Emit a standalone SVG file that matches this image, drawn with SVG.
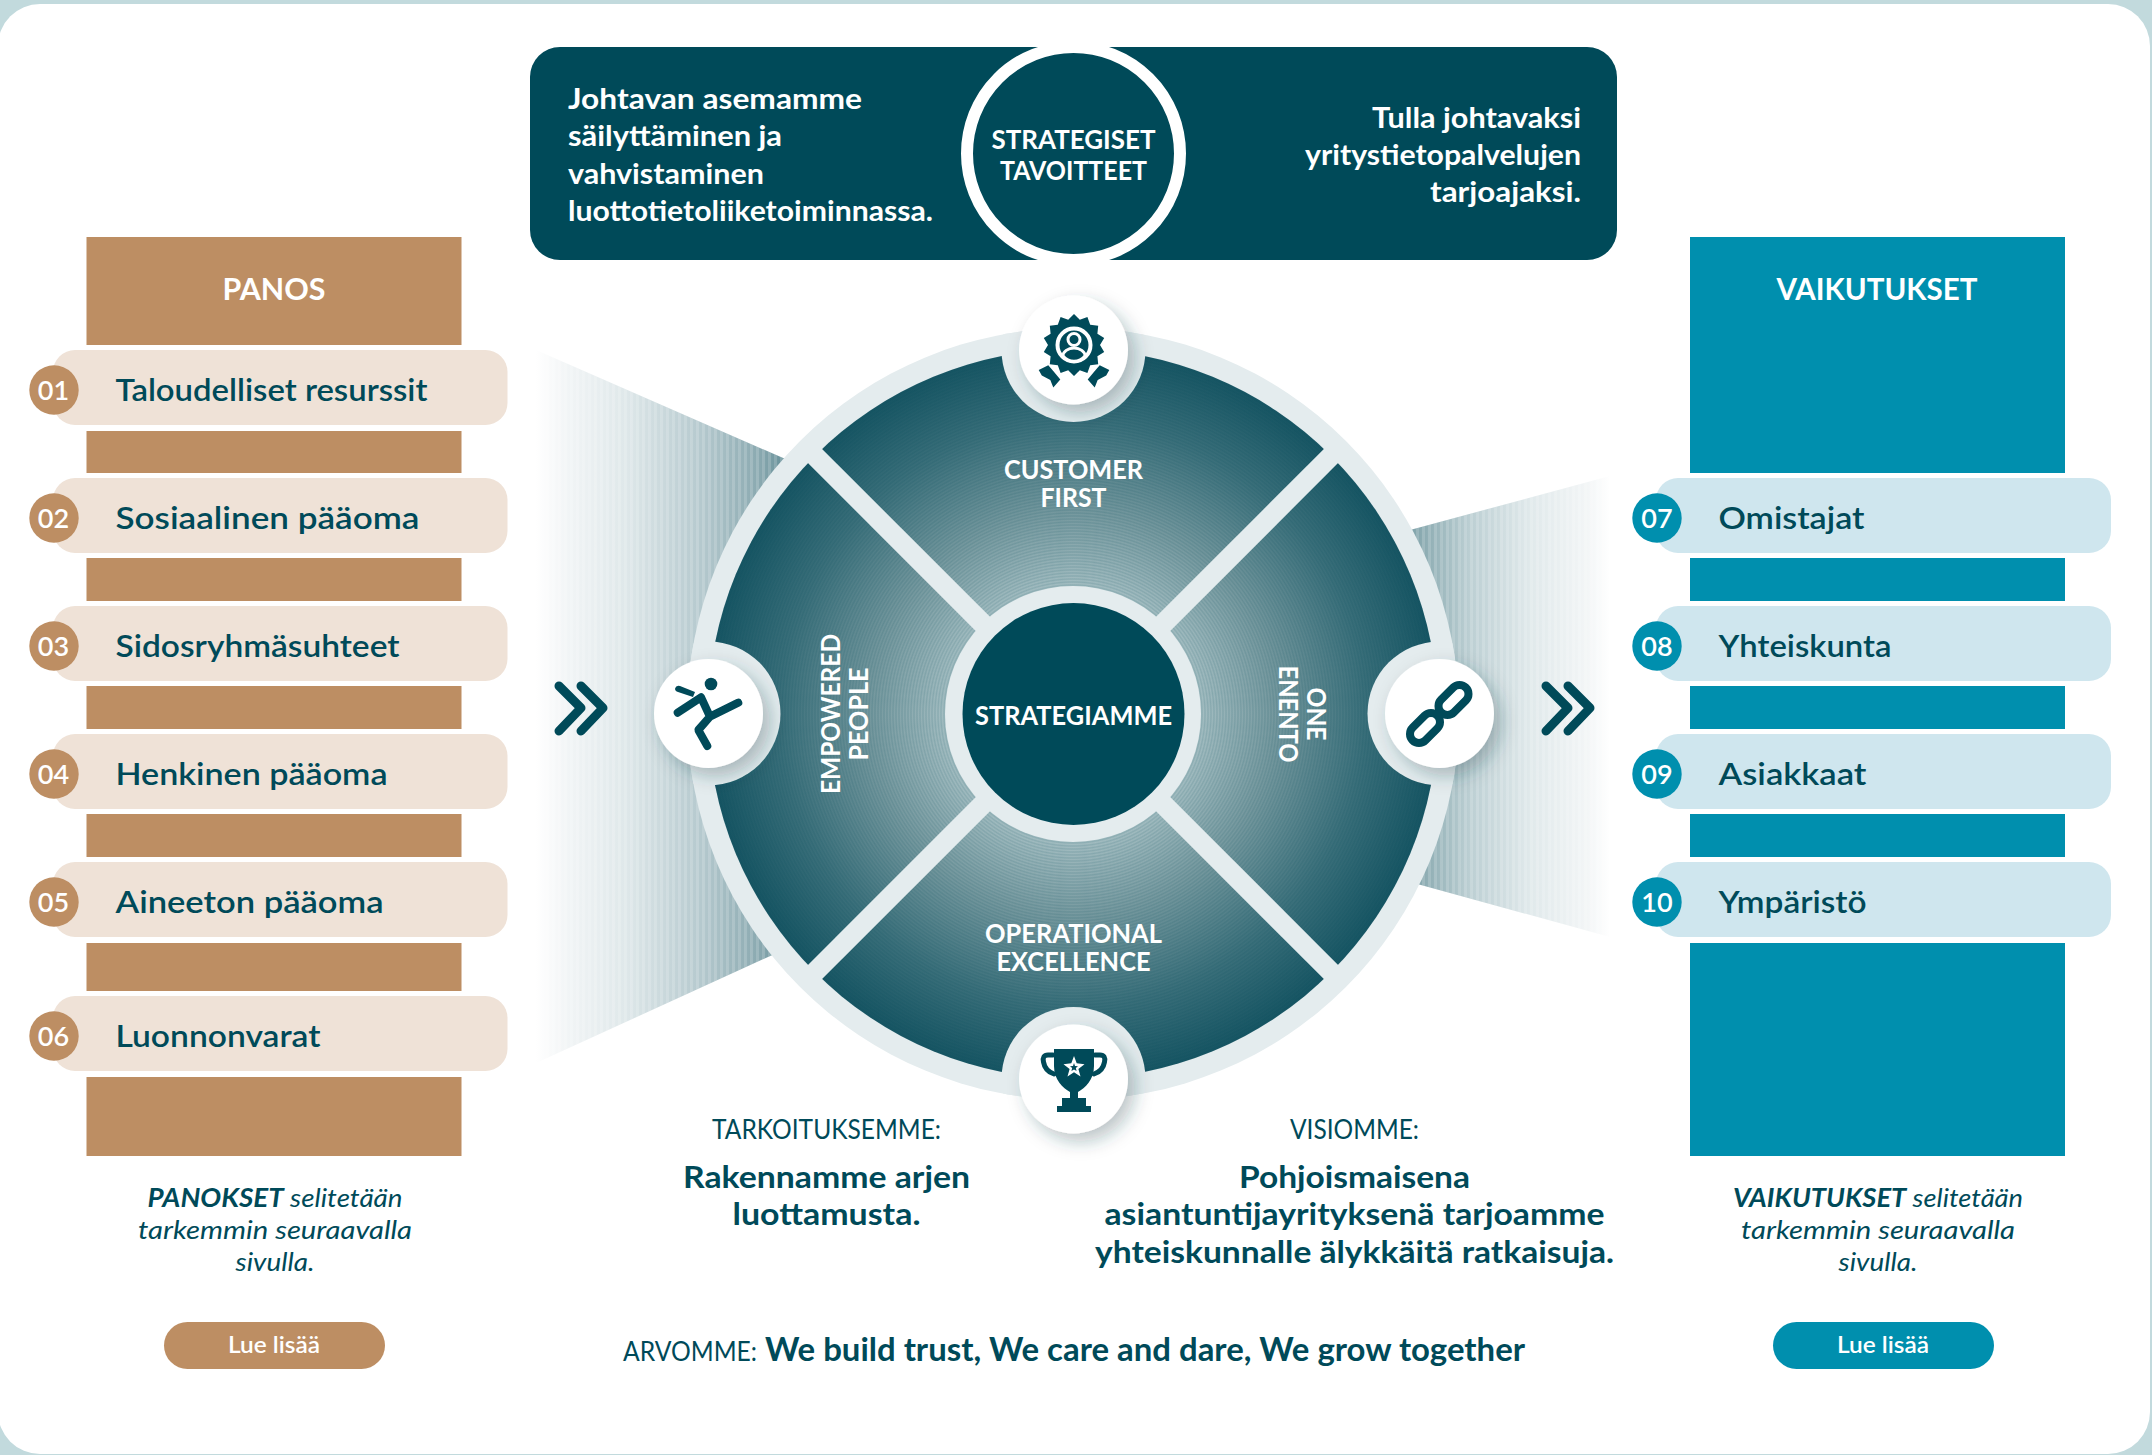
<svg xmlns="http://www.w3.org/2000/svg" width="2152" height="1455" viewBox="0 0 2152 1455">
<style>
text{font-family:"Lato","Noto Sans","Liberation Sans",sans-serif;fill:#004a59}
.w{fill:#fff}
.b{font-weight:700}
.pt{font-size:31px;font-weight:600}
.num{font-size:27px;fill:#fff;text-anchor:middle;font-weight:600}
.hd{font-size:31px;fill:#fff;text-anchor:middle;font-weight:700}
.ban{font-size:29px;fill:#fff;font-weight:700}
.wl{font-size:26px;fill:#fff;text-anchor:middle;font-weight:700}
.note{font-size:26px;font-style:italic;text-anchor:middle}
.cap{font-size:26px;text-anchor:middle}
.big{font-size:31px;font-weight:700;text-anchor:middle}
.btn{font-size:23px;fill:#fff;font-weight:600}
.tan{fill:#bd8e63}.tanp{fill:#efe2d7}.blu{fill:#008fae}.blup{fill:#cfe6ee}
.ic{fill:#004a59}
.ils{fill:none;stroke:#004a59;stroke-linecap:round;stroke-linejoin:round}
.chev{fill:none;stroke:#004a59;stroke-width:9;stroke-linecap:round;stroke-linejoin:round}
.ring{fill:#e4ecee}
.sep{stroke:#e4ecee;stroke-width:20}
</style>
<defs>
<linearGradient id="fl" gradientUnits="userSpaceOnUse" x1="536" y1="0" x2="790" y2="0"><stop offset="0" stop-color="#fff"/><stop offset=".12" stop-color="#f2f5f6"/><stop offset=".35" stop-color="#dfe8ea"/><stop offset=".65" stop-color="#b5c9ce"/><stop offset=".88" stop-color="#8aa9b0"/><stop offset="1" stop-color="#5f8b94"/></linearGradient>
<linearGradient id="fr" gradientUnits="userSpaceOnUse" x1="1610" y1="0" x2="1410" y2="0"><stop offset="0" stop-color="#fff"/><stop offset=".12" stop-color="#f2f5f6"/><stop offset=".4" stop-color="#e0e9eb"/><stop offset=".7" stop-color="#bccfd3"/><stop offset="1" stop-color="#7fa2a9"/></linearGradient>
<pattern id="st" patternUnits="userSpaceOnUse" width="6" height="10"><rect width="3" height="10" fill="#fff" fill-opacity=".16"/></pattern>
<radialGradient id="wg" gradientUnits="userSpaceOnUse" cx="1073" cy="714" r="365"><stop offset=".33" stop-color="#a8c1c5"/><stop offset=".55" stop-color="#76999f"/><stop offset=".8" stop-color="#3a6f7a"/><stop offset="1" stop-color="#175563"/></radialGradient>
<radialGradient id="mo" gradientUnits="userSpaceOnUse" cx="1073" cy="714" r="3" spreadMethod="repeat"><stop offset="0" stop-color="#004a59" stop-opacity=".14"/><stop offset=".5" stop-color="#004a59" stop-opacity="0"/><stop offset="1" stop-color="#004a59" stop-opacity=".14"/></radialGradient>
<clipPath id="rc"><circle cx="1073" cy="714" r="386"/></clipPath>
<filter id="sh" x="-40%" y="-40%" width="180%" height="180%"><feDropShadow dx="7" dy="8" stdDeviation="9" flood-color="#1c3c44" flood-opacity=".3"/></filter>
</defs>
<rect width="2152" height="1455" fill="#c2dadd"/>
<rect x="-2" y="4" width="2152" height="1450" rx="42" fill="#fff"/>

<g id="connectors">
<polygon points="536,350 790,461 790,947 536,1063" fill="url(#fl)"/>
<polygon points="536,350 790,461 790,947 536,1063" fill="url(#st)"/>
<polygon points="1610,476 1410,530 1410,882 1610,937" fill="url(#fr)"/>
<polygon points="1610,476 1410,530 1410,882 1610,937" fill="url(#st)"/>
<polyline class="chev" points="559,686 581,708 559,731"/>
<polyline class="chev" points="581,686 603,708 581,731"/>
<polyline class="chev" points="1546,686 1568,708 1546,731"/>
<polyline class="chev" points="1568,686 1590,708 1568,731"/>
</g>

<g id="panos">
<rect class="tan" x="86.500" y="237" width="375" height="108"/>
<rect class="tan" x="86.500" y="431" width="375" height="42"/>
<rect class="tan" x="86.500" y="558" width="375" height="43"/>
<rect class="tan" x="86.500" y="686" width="375" height="43"/>
<rect class="tan" x="86.500" y="814" width="375" height="43"/>
<rect class="tan" x="86.500" y="943" width="375" height="48"/>
<rect class="tan" x="86.500" y="1077" width="375" height="79"/>
<text class="hd" x="274" y="300" textLength="103" lengthAdjust="spacingAndGlyphs">PANOS</text>
</g>
<g id="vaikutukset">
<rect class="blu" x="1690" y="237" width="375" height="236"/>
<rect class="blu" x="1690" y="558" width="375" height="43"/>
<rect class="blu" x="1690" y="686" width="375" height="43"/>
<rect class="blu" x="1690" y="814" width="375" height="43"/>
<rect class="blu" x="1690" y="943" width="375" height="213"/>
<text class="hd" x="1877" y="300" textLength="201" lengthAdjust="spacingAndGlyphs">VAIKUTUKSET</text>
</g>

<g id="item01"><rect class="tanp" x="53" y="350" width="454.500" height="75" rx="22"/><circle class="tan" cx="54" cy="390" r="24.700"/><text class="num" x="53.500" y="400">01</text><text class="pt" x="115.500" y="401" textLength="312" lengthAdjust="spacingAndGlyphs">Taloudelliset resurssit</text></g>
<g id="item02"><rect class="tanp" x="53" y="478" width="454.500" height="75" rx="22"/><circle class="tan" cx="54" cy="518" r="24.700"/><text class="num" x="53.500" y="528">02</text><text class="pt" x="115.500" y="529" textLength="304" lengthAdjust="spacingAndGlyphs">Sosiaalinen pääoma</text></g>
<g id="item03"><rect class="tanp" x="53" y="606" width="454.500" height="75" rx="22"/><circle class="tan" cx="54" cy="646" r="24.700"/><text class="num" x="53.500" y="656">03</text><text class="pt" x="115.500" y="657" textLength="284" lengthAdjust="spacingAndGlyphs">Sidosryhmäsuhteet</text></g>
<g id="item04"><rect class="tanp" x="53" y="734" width="454.500" height="75" rx="22"/><circle class="tan" cx="54" cy="774" r="24.700"/><text class="num" x="53.500" y="784">04</text><text class="pt" x="115.500" y="785" textLength="272" lengthAdjust="spacingAndGlyphs">Henkinen pääoma</text></g>
<g id="item05"><rect class="tanp" x="53" y="862" width="454.500" height="75" rx="22"/><circle class="tan" cx="54" cy="902" r="24.700"/><text class="num" x="53.500" y="912">05</text><text class="pt" x="115.500" y="913" textLength="268" lengthAdjust="spacingAndGlyphs">Aineeton pääoma</text></g>
<g id="item06"><rect class="tanp" x="53" y="996" width="454.500" height="75" rx="22"/><circle class="tan" cx="54" cy="1036" r="24.700"/><text class="num" x="53.500" y="1046">06</text><text class="pt" x="115.500" y="1047" textLength="205" lengthAdjust="spacingAndGlyphs">Luonnonvarat</text></g>

<g id="item07"><rect class="blup" x="1656" y="478" width="455" height="75" rx="22"/><circle class="blu" cx="1657" cy="518" r="24.700"/><text class="num" x="1657" y="528">07</text><text class="pt" x="1718.500" y="529" textLength="146" lengthAdjust="spacingAndGlyphs">Omistajat</text></g>
<g id="item08"><rect class="blup" x="1656" y="606" width="455" height="75" rx="22"/><circle class="blu" cx="1657" cy="646" r="24.700"/><text class="num" x="1657" y="656">08</text><text class="pt" x="1718.500" y="657" textLength="173" lengthAdjust="spacingAndGlyphs">Yhteiskunta</text></g>
<g id="item09"><rect class="blup" x="1656" y="734" width="455" height="75" rx="22"/><circle class="blu" cx="1657" cy="774" r="24.700"/><text class="num" x="1657" y="784">09</text><text class="pt" x="1718.500" y="785" textLength="148" lengthAdjust="spacingAndGlyphs">Asiakkaat</text></g>
<g id="item10"><rect class="blup" x="1656" y="862" width="455" height="75" rx="22"/><circle class="blu" cx="1657" cy="902" r="24.700"/><text class="num" x="1657" y="912">10</text><text class="pt" x="1718.500" y="913" textLength="148" lengthAdjust="spacingAndGlyphs">Ympäristö</text></g>

<g id="tavoitteet">
<rect x="530" y="47" width="1087" height="213" rx="30" fill="#004a59"/>
<circle cx="1073.500" cy="153.500" r="106.500" fill="#004a59" stroke="#fff" stroke-width="12"/>
<text class="ban" x="568" y="109" textLength="294" lengthAdjust="spacingAndGlyphs">Johtavan asemamme</text>
<text class="ban" x="568" y="146" textLength="214" lengthAdjust="spacingAndGlyphs">säilyttäminen ja</text>
<text class="ban" x="568" y="184" textLength="196" lengthAdjust="spacingAndGlyphs">vahvistaminen</text>
<text class="ban" x="568" y="221" textLength="365" lengthAdjust="spacingAndGlyphs">luottotietoliiketoiminnassa.</text>
<text class="ban" x="1581" y="128" text-anchor="end" textLength="209" lengthAdjust="spacingAndGlyphs">Tulla johtavaksi</text>
<text class="ban" x="1581" y="165" text-anchor="end" textLength="276" lengthAdjust="spacingAndGlyphs">yritystietopalvelujen</text>
<text class="ban" x="1581" y="202" text-anchor="end" textLength="151" lengthAdjust="spacingAndGlyphs">tarjoajaksi.</text>
<text class="wl" x="1073.500" y="149" textLength="164" lengthAdjust="spacingAndGlyphs">STRATEGISET</text>
<text class="wl" x="1073.500" y="180" textLength="147" lengthAdjust="spacingAndGlyphs">TAVOITTEET</text>
</g>

<g id="wheel">
<circle class="ring" cx="1073" cy="714" r="386"/>
<circle cx="1073" cy="714" r="365" fill="url(#wg)"/>
<circle cx="1073" cy="714" r="365" fill="url(#mo)"/>
<line class="sep" x1="802" y1="443" x2="1344" y2="985"/>
<line class="sep" x1="1344" y1="443" x2="802" y2="985"/>
<circle class="ring" cx="1073" cy="714" r="128"/>
<g clip-path="url(#rc)" class="ring"><circle cx="1073.500" cy="350" r="72"/><circle cx="708.500" cy="713.500" r="72"/><circle cx="1439.500" cy="713.500" r="72"/><circle cx="1073.500" cy="1079" r="72"/></g>
</g>
<g id="strategiamme"><circle cx="1073.500" cy="714" r="111" fill="#004a59"/><text class="wl" x="1073.500" y="725" textLength="197" lengthAdjust="spacingAndGlyphs">STRATEGIAMME</text></g>

<g id="customer-first">
<circle class="w" cx="1073.500" cy="350" r="54.500" filter="url(#sh)"/>
<polygon class="ic" points="1074,314 1079.800,319.700 1087.400,317.100 1090.200,324.700 1098.200,325.700 1097.400,333.700 1104.200,338.100 1100,345 1104.200,351.900 1097.400,356.300 1098.200,364.300 1090.200,365.300 1087.400,372.900 1079.800,370.300 1074,376 1068.200,370.300 1060.600,372.900 1057.800,365.300 1049.800,364.300 1050.600,356.300 1043.800,351.900 1048,345 1043.800,338.100 1050.600,333.700 1049.800,325.700 1057.800,324.700 1060.600,317.100 1068.200,319.700"/>
<circle cx="1074" cy="345" r="16.500" fill="none" stroke="#fff" stroke-width="4"/>
<circle cx="1074" cy="339.500" r="6" class="ic" stroke="#fff" stroke-width="3"/>
<path d="M1063 356a11 8 0 0 1 22 0a14 14 0 0 1-22 0z" class="ic" stroke="#fff" stroke-width="3"/>
<path class="ic" d="M1038.700 370l9.600-4.700 6 7 6 7.300-7 8-3-7.700-8.500-4.300zM1109.300 370l-9.600-4.700-6 7-6 7.300 7 8 3-7.700 8.500-4.300z"/>
<text class="wl" x="1073.500" y="479" textLength="139" lengthAdjust="spacingAndGlyphs">CUSTOMER</text>
<text class="wl" x="1073.500" y="507" textLength="66" lengthAdjust="spacingAndGlyphs">FIRST</text>
</g>
<g id="operational-excellence">
<circle class="w" cx="1073.500" cy="1079" r="54.500" filter="url(#sh)"/>
<path class="ic" d="M1054 1049H1094V1066C1094 1080 1085 1088 1078 1092V1098H1086V1106H1091V1112H1057V1106H1062V1098H1070V1092C1063 1088 1054 1080 1054 1066Z"/>
<path class="ils" stroke-width="5" d="M1053 1055H1048Q1042 1055 1043.500 1062Q1045 1071 1054 1074M1095 1055H1100Q1106 1055 1104.500 1062Q1103 1071 1094 1074"/>
<polygon fill="#fff" points="1074,1056 1076.700,1063.300 1084.500,1064.300 1078.400,1069.100 1080.500,1076.600 1074,1072.300 1067.500,1076.600 1069.600,1069.100 1063.500,1064.300 1071.300,1063.300"/>
<polygon class="ic" points="1074,1063 1075,1066 1078,1066.200 1075.800,1068.100 1076.600,1071 1074,1069.400 1071.400,1071 1072.200,1068.100 1070,1066.200 1073,1066"/>
<text class="wl" x="1073.500" y="943" textLength="177" lengthAdjust="spacingAndGlyphs">OPERATIONAL</text>
<text class="wl" x="1073.500" y="971" textLength="154" lengthAdjust="spacingAndGlyphs">EXCELLENCE</text>
</g>
<g id="empowered-people">
<circle class="w" cx="708.500" cy="713.500" r="54.500" filter="url(#sh)"/>
<circle class="ic" cx="711" cy="684" r="6.300"/>
<path class="ils" stroke-width="8" d="M677.700 712.700L701 697.300L710 716.700L738.300 702.700M710 716.700L698.300 730L707.300 746"/>
<path class="ic" d="M675 688.500Q676 685 680 686L695 692L693 697L678 692Q675 691 675 688.500z"/>
<text class="wl" transform="translate(840,714) rotate(-90)" textLength="160" lengthAdjust="spacingAndGlyphs">EMPOWERED</text>
<text class="wl" transform="translate(868,714) rotate(-90)" textLength="93" lengthAdjust="spacingAndGlyphs">PEOPLE</text>
</g>
<g id="one-enento">
<circle class="w" cx="1439.500" cy="713.500" r="54.500" filter="url(#sh)"/>
<g fill="none" stroke="#004a59" stroke-width="8">
<rect x="1436" y="691" width="35" height="18" rx="9" transform="rotate(-45 1453.500 700)"/>
<rect x="1407.500" y="719" width="35" height="18" rx="9" transform="rotate(-45 1425 728)"/>
</g>
<text class="wl" transform="translate(1307,714) rotate(90)" textLength="53" lengthAdjust="spacingAndGlyphs">ONE</text>
<text class="wl" transform="translate(1279,714) rotate(90)" textLength="97" lengthAdjust="spacingAndGlyphs">ENENTO</text>
</g>

<g id="panokset-note">
<text class="note" x="275" y="1207" textLength="255" lengthAdjust="spacingAndGlyphs"><tspan class="b">PANOKSET</tspan> selitetään</text>
<text class="note" x="275" y="1239" textLength="274" lengthAdjust="spacingAndGlyphs">tarkemmin seuraavalla</text>
<text class="note" x="275" y="1271" textLength="79" lengthAdjust="spacingAndGlyphs">sivulla.</text>
</g>
<g id="vaikutukset-note">
<text class="note" x="1878" y="1207" textLength="290" lengthAdjust="spacingAndGlyphs"><tspan class="b">VAIKUTUKSET</tspan> selitetään</text>
<text class="note" x="1878" y="1239" textLength="274" lengthAdjust="spacingAndGlyphs">tarkemmin seuraavalla</text>
<text class="note" x="1878" y="1271" textLength="79" lengthAdjust="spacingAndGlyphs">sivulla.</text>
</g>
<g id="btn-left"><rect class="tan" x="164" y="1322" width="221" height="47" rx="23.500"/><text class="btn" x="228" y="1353" textLength="92" lengthAdjust="spacingAndGlyphs">Lue lisää</text></g>
<g id="btn-right"><rect class="blu" x="1773" y="1322" width="221" height="47" rx="23.500"/><text class="btn" x="1837" y="1353" textLength="92" lengthAdjust="spacingAndGlyphs">Lue lisää</text></g>

<g id="tarkoitus">
<text class="cap" x="826.500" y="1139" textLength="229" lengthAdjust="spacingAndGlyphs">TARKOITUKSEMME:</text>
<text class="big" x="826.500" y="1188" textLength="287" lengthAdjust="spacingAndGlyphs">Rakennamme arjen</text>
<text class="big" x="826.500" y="1225" textLength="188" lengthAdjust="spacingAndGlyphs">luottamusta.</text>
</g>
<g id="visio">
<text class="cap" x="1354.500" y="1139" textLength="129" lengthAdjust="spacingAndGlyphs">VISIOMME:</text>
<text class="big" x="1354.500" y="1188" textLength="231" lengthAdjust="spacingAndGlyphs">Pohjoismaisena</text>
<text class="big" x="1354.500" y="1225" textLength="500" lengthAdjust="spacingAndGlyphs">asiantuntijayrityksenä tarjoamme</text>
<text class="big" x="1354.500" y="1263" textLength="519" lengthAdjust="spacingAndGlyphs">yhteiskunnalle älykkäitä ratkaisuja.</text>
</g>
<g id="arvot">
<text style="font-size:27px" x="623" y="1361" textLength="134" lengthAdjust="spacingAndGlyphs">ARVOMME:</text>
<text style="font-size:32px;font-weight:700" x="765" y="1361" textLength="760" lengthAdjust="spacingAndGlyphs">We build trust, We care and dare, We grow together</text>
</g>
</svg>
